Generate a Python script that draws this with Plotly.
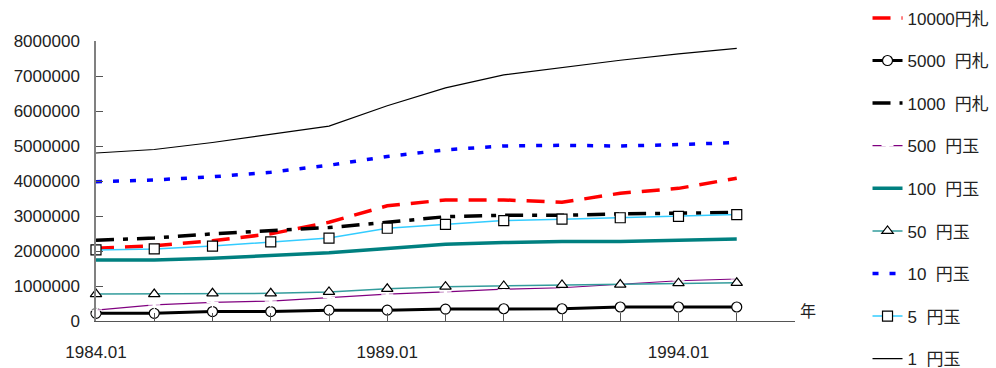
import plotly.graph_objects as go

categories = ["1984.01", "1985.01", "1986.01", "1987.01", "1988.01", "1989.01",
              "1990.01", "1991.01", "1992.01", "1993.01", "1994.01", "1995.01"]
x_tick_labels = ["1984.01", "", "", "", "", "1989.01", "", "", "", "", "1994.01", ""]

y10000 = [2080000, 2150000, 2290000, 2490000, 2820000, 3290000, 3460000, 3460000, 3390000, 3650000, 3790000, 4080000]
y5000 = [220000, 220000, 270000, 270000, 310000, 310000, 340000, 350000, 350000, 400000, 400000, 400000]
y1000 = [2310000, 2370000, 2490000, 2580000, 2670000, 2820000, 2980000, 3020000, 3020000, 3060000, 3090000, 3100000]
y500 = [310000, 460000, 530000, 570000, 670000, 770000, 830000, 910000, 950000, 1050000, 1150000, 1200000]
y100 = [1740000, 1740000, 1790000, 1870000, 1950000, 2070000, 2190000, 2240000, 2270000, 2270000, 2310000, 2340000]
y50 = [770000, 770000, 790000, 790000, 830000, 920000, 980000, 1000000, 1030000, 1040000, 1080000, 1090000]
y10 = [3980000, 4030000, 4120000, 4250000, 4450000, 4700000, 4890000, 5000000, 5020000, 5000000, 5040000, 5100000]
y5 = [2030000, 2060000, 2140000, 2260000, 2370000, 2650000, 2760000, 2870000, 2910000, 2950000, 2990000, 3040000]
y1 = [4800000, 4900000, 5100000, 5330000, 5570000, 6150000, 6660000, 7030000, 7250000, 7450000, 7630000, 7790000]

names = ["10000円札", "5000\u00a0 円札", "1000\u00a0 円札", "500\u00a0 円玉", "100\u00a0 円玉",
         "50\u00a0 円玉", "10\u00a0 円玉", "5\u00a0 円玉", "1\u00a0 円玉"]

FONT = "Liberation Sans, Arial, Noto Sans CJK JP, sans-serif"

fig = go.Figure()

def add(y, name, color, width, dash="solid", symbol=None, msize=10, mline=1.2):
    kw = {}
    if symbol:
        mode = "lines+markers"
        kw["marker"] = dict(symbol=symbol, size=msize, color="white",
                            line=dict(color="black", width=mline))
    else:
        mode = "lines"
    fig.add_trace(go.Scatter(x=categories, y=y, name=name, mode=mode,
                             line=dict(color=color, width=width, dash=dash),
                             legendgroup=name, cliponaxis=False, **kw))

add(y10000, names[0], "#ff0000", 3.5, dash="18px,11px")
add(y5000, names[1], "#000000", 3, symbol="circle", msize=10)
add(y1000, names[2], "#000000", 3.5, dash="18px,9px,5px,9px")
add(y500, names[3], "#800080", 1.2, symbol="asterisk-open", msize=10)
add(y100, names[4], "#008080", 3.5)
add(y50, names[5], "#339c9c", 1.5, symbol="triangle-up", msize=10)
add(y10, names[6], "#0000ff", 3.5, dash="6px,11px")
add(y5, names[7], "#33ccff", 1.5, symbol="square", msize=10)
add(y1, names[8], "#000000", 1.2)

fig.add_annotation(text="年", xref="paper", yref="y", x=1, y=0, xanchor="left",
                   yanchor="middle", xshift=3, yshift=10, showarrow=False,
                   font=dict(size=16, color="#222", family=FONT))

fig.update_layout(
    width=996, height=368,
    margin=dict(l=96, r=201, t=41, b=47, autoexpand=False),
    paper_bgcolor="white", plot_bgcolor="white",
    font=dict(family=FONT, size=17, color="#222"),
    showlegend=True,
    legend=dict(xref="container", yref="container", x=0.871, xanchor="left",
                y=0.999, yanchor="top", maxheight=420,
                tracegroupgap=17.5, font=dict(size=17, color="#222"),
                bgcolor="rgba(0,0,0,0)"),
    xaxis=dict(type="category", range=[0, 12], tickmode="array",
               tickvals=categories, ticktext=x_tick_labels,
               ticks="inside", ticklen=8, tickcolor="#555", showline=True,
               linecolor="#555", linewidth=1.2, showgrid=False, zeroline=False,
               ticklabelstandoff=15, tickfont=dict(size=17, color="#222")),
    yaxis=dict(range=[0, 8000000], dtick=1000000, tickformat="d",
               ticks="inside", ticklen=7, tickcolor="#555", showline=True,
               linecolor="#808080", linewidth=1.5, showgrid=False, zeroline=False,
               ticklabelstandoff=11, tickfont=dict(size=17, color="#222")),
)

fig.write_html("out.html", config={"displayModeBar": False},
               post_script="document.body.style.margin='0';document.body.style.overflow='hidden';")
